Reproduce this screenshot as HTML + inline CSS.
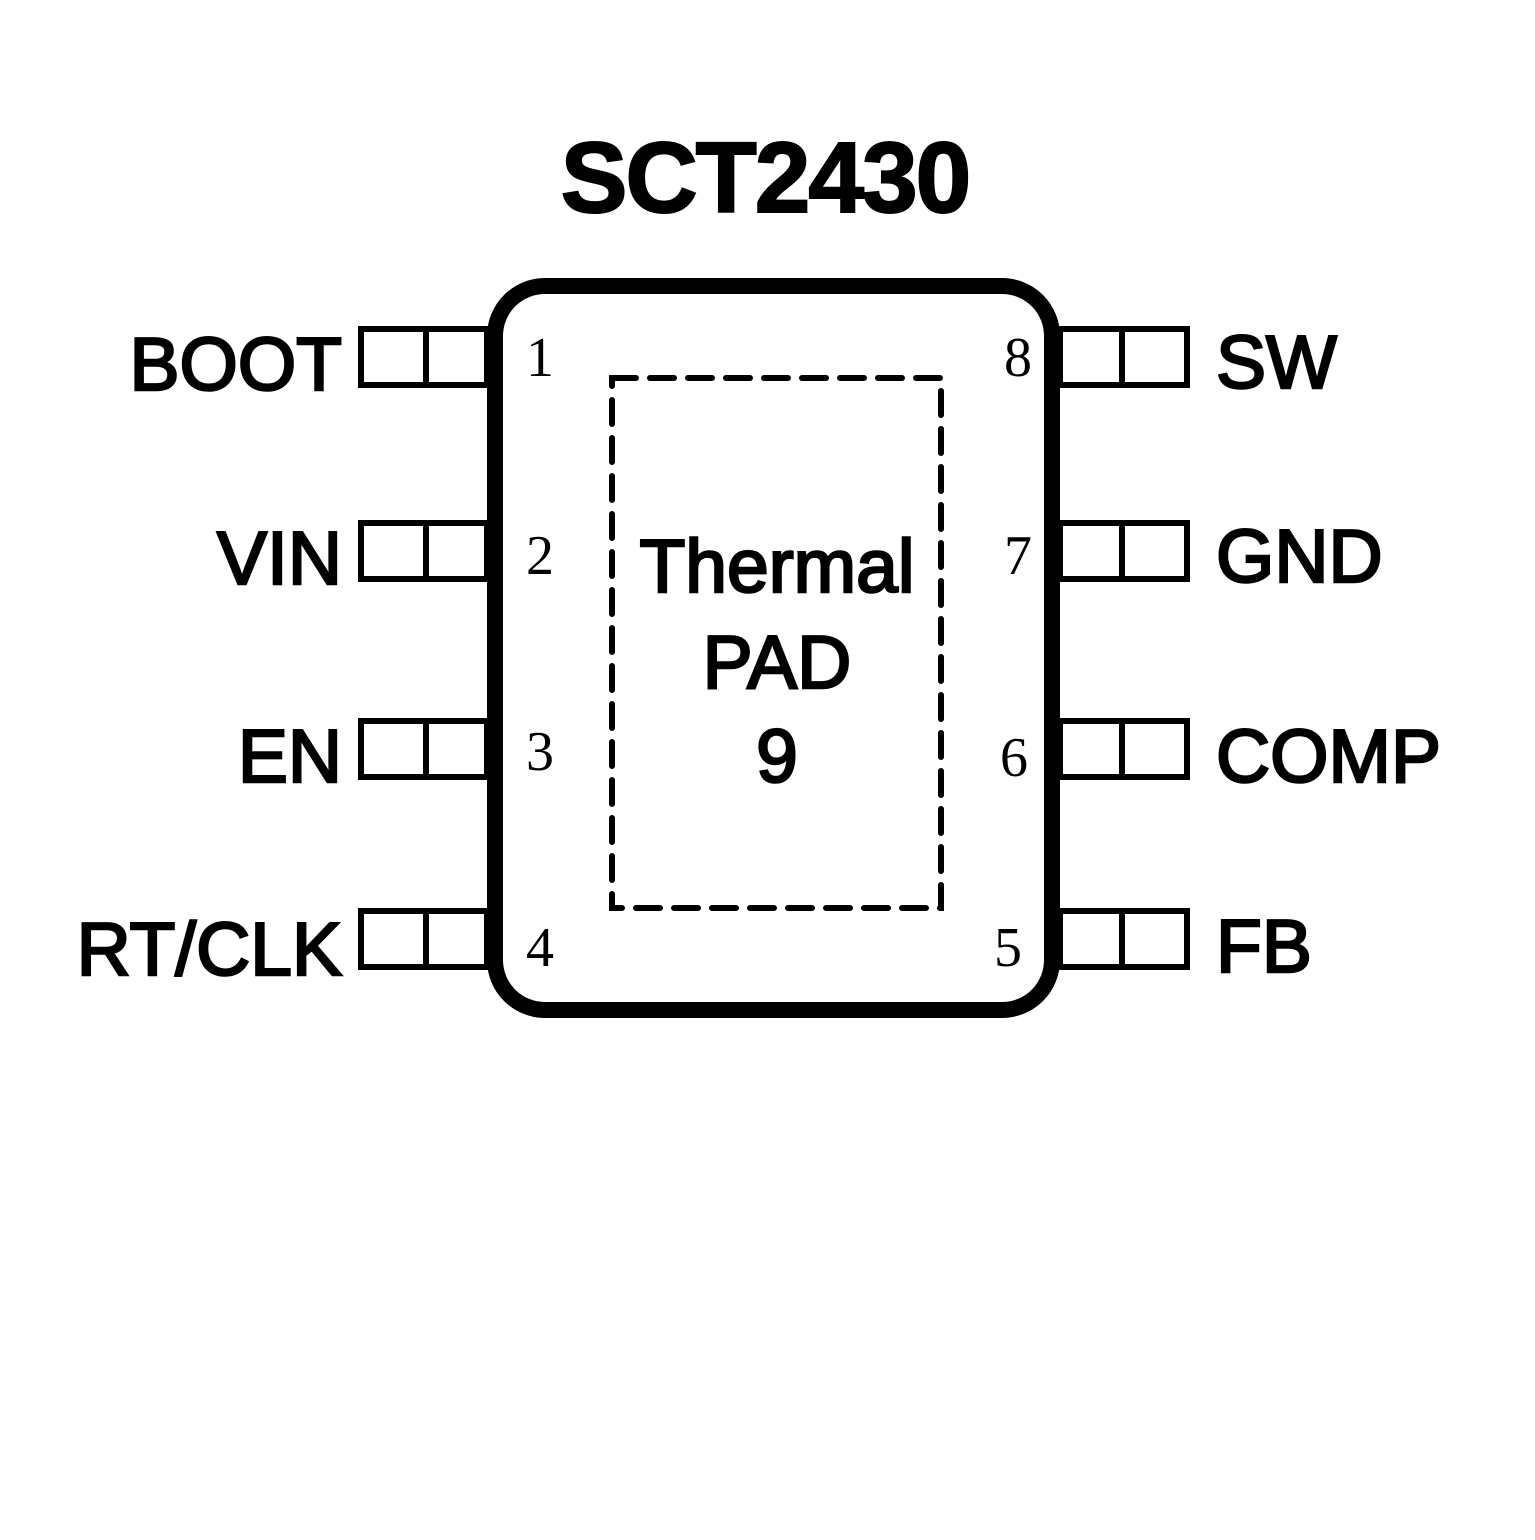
<!DOCTYPE html>
<html><head><style>body{margin:0;background:#fff}</style></head><body>
<svg width="1535" height="1535" viewBox="0 0 1535 1535" xmlns="http://www.w3.org/2000/svg">
<rect width="1535" height="1535" fill="#fff"/>
<text x="765" y="212" text-anchor="middle" font-family="Liberation Sans, sans-serif" font-weight="bold" font-size="100" letter-spacing="-2" stroke="#000" stroke-width="2">SCT2430</text>
<g fill="#fff" stroke="#000" stroke-width="6">
<rect x="361" y="329" width="126" height="56"/><line x1="426" y1="329" x2="426" y2="385"/>
<rect x="361" y="523" width="126" height="56"/><line x1="426" y1="523" x2="426" y2="579"/>
<rect x="361" y="721" width="126" height="56"/><line x1="426" y1="721" x2="426" y2="777"/>
<rect x="361" y="911" width="126" height="56"/><line x1="426" y1="911" x2="426" y2="967"/>
<rect x="1060" y="329" width="127" height="56"/><line x1="1122" y1="329" x2="1122" y2="385"/>
<rect x="1060" y="523" width="127" height="56"/><line x1="1122" y1="523" x2="1122" y2="579"/>
<rect x="1060" y="721" width="127" height="56"/><line x1="1122" y1="721" x2="1122" y2="777"/>
<rect x="1060" y="911" width="127" height="56"/><line x1="1122" y1="911" x2="1122" y2="967"/>
</g>
<rect x="495" y="286" width="557" height="724" rx="50" fill="#fff" stroke="#000" stroke-width="16"/>
<rect x="612" y="378" width="329" height="530" fill="none" stroke="#000" stroke-width="6" stroke-dasharray="24 14" stroke-linecap="round"/>
<g font-family="Liberation Sans, sans-serif" font-size="75" stroke="#000" stroke-width="2.5">
<text x="342" y="390" text-anchor="end">BOOT</text>
<text x="342" y="584" text-anchor="end">VIN</text>
<text x="342" y="782" text-anchor="end">EN</text>
<text x="342" y="975" text-anchor="end">RT/CLK</text>
<text x="1216" y="388">SW</text>
<text x="1216" y="582">GND</text>
<text x="1216" y="782">COMP</text>
<text x="1216" y="972">FB</text>
<text x="777" y="592" text-anchor="middle">Thermal</text>
<text x="777" y="688" text-anchor="middle">PAD</text>
<text x="777" y="782" text-anchor="middle">9</text>
</g>
<g font-family="Liberation Serif, serif" font-size="56">
<text x="540" y="376" text-anchor="middle">1</text>
<text x="540" y="574" text-anchor="middle">2</text>
<text x="540" y="770" text-anchor="middle">3</text>
<text x="540" y="966" text-anchor="middle">4</text>
<text x="1018" y="376" text-anchor="middle">8</text>
<text x="1018" y="574" text-anchor="middle">7</text>
<text x="1014" y="776" text-anchor="middle">6</text>
<text x="1008" y="966" text-anchor="middle">5</text>
</g>
</svg>
</body></html>
